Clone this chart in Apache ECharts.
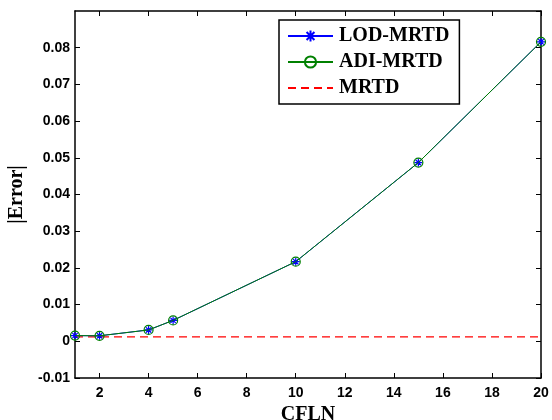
<!DOCTYPE html>
<html><head><meta charset="utf-8">
<script src="https://cdn.jsdelivr.net/npm/echarts@6/dist/echarts.min.js"></script>
<style>html,body{margin:0;padding:0;background:#fff}#c{width:552px;height:420px}</style>
</head><body><div id="c"></div>
<script>
const cfln = [1, 2, 4, 5, 10, 15, 20];
const lodMrtd = [0.00155, 0.0015, 0.0031, 0.0057, 0.0217, 0.0487, 0.0816];
const adiMrtd = [0.00155, 0.0015, 0.0031, 0.0057, 0.0217, 0.0487, 0.0816];
const mrtdX = [1, 20];
const mrtdY = [0.0012, 0.0012];
const xTicks = [2, 4, 6, 8, 10, 12, 14, 16, 18, 20];
const seriesNames = ['LOD-MRTD', 'ADI-MRTD', 'MRTD'];
const xTitle = 'CFLN';
const yTitle = '|Error|';

const pair = (xs, ys) => xs.map((x, i) => [x, ys[i]]);
const asterisk = 'path://M0 5 L10 5 M5 0 L5 10 M1.5 1.5 L8.5 8.5 M8.5 1.5 L1.5 8.5';
const tickFont = {fontFamily: 'Liberation Sans, Arial, sans-serif', fontWeight: 'bold', fontSize: 14, color: '#000'};
const titleFont = {fontFamily: 'Liberation Serif, Times New Roman, serif', fontWeight: 'bold', fontSize: 20, color: '#000'};
const axLine = {show: true, onZero: false, lineStyle: {color: '#000', width: 1.5}};
const tick = {show: true, inside: true, length: 5, lineStyle: {color: '#000'}};

const chart = echarts.init(document.getElementById('c'), null, {renderer: 'canvas'});
chart.setOption({
  animation: false,
  backgroundColor: '#fff',
  grid: {left: 75, right: 11, top: 11, bottom: 42, containLabel: false, outerBoundsMode: 'none'},
  legend: {
    left: 279, top: 20, orient: 'vertical',
    data: [seriesNames[0], seriesNames[1],
      {name: seriesNames[2], itemStyle: {color: 'rgba(0,0,0,0)', borderColor: 'rgba(0,0,0,0)', borderWidth: 0}}],
    backgroundColor: '#fff', borderColor: '#000', borderWidth: 1.5,
    padding: [6, 10, 6, 8], itemGap: 6, itemWidth: 45, itemHeight: 14,
    textStyle: Object.assign({padding: [0, 0, 0, 1]}, titleFont)
  },
  xAxis: [{
    type: 'value', min: 1, max: 20,
    name: xTitle, nameLocation: 'middle', nameGap: 21, nameTextStyle: titleFont,
    axisLine: axLine, splitLine: {show: false},
    axisTick: Object.assign({customValues: xTicks}, tick),
    axisLabel: Object.assign({margin: 8, customValues: xTicks}, tickFont)
  }, {
    type: 'value', min: 1, max: 20, position: 'top',
    axisLine: axLine, splitLine: {show: false},
    axisTick: Object.assign({customValues: xTicks}, tick),
    axisLabel: {show: false}
  }],
  yAxis: [{
    type: 'value', min: -0.01, max: 0.09, interval: 0.01,
    name: yTitle, nameLocation: 'middle', nameGap: 47, nameTextStyle: titleFont,
    axisLine: axLine, splitLine: {show: false},
    axisTick: tick,
    axisLabel: Object.assign({margin: 5, showMaxLabel: false,
      formatter: v => Math.abs(v) < 1e-9 ? '0' : v.toFixed(2)}, tickFont)
  }, {
    type: 'value', min: -0.01, max: 0.09, interval: 0.01, position: 'right',
    axisLine: axLine, splitLine: {show: false},
    axisTick: tick,
    axisLabel: {show: false}
  }],
  series: [{
    name: seriesNames[2], type: 'line', data: pair(mrtdX, mrtdY),
    symbol: 'none', z: 1,
    lineStyle: {color: '#ff0000', width: 1.2, type: [8, 5]},
    itemStyle: {color: '#ff0000'}
  }, {
    name: seriesNames[0], type: 'line', data: pair(cfln, lodMrtd),
    symbol: asterisk, symbolSize: 8, z: 2,
    lineStyle: {color: '#0000ff', width: 1},
    itemStyle: {color: '#0000ff', borderColor: '#0000ff', borderWidth: 1.2}
  }, {
    name: seriesNames[1], type: 'line', data: pair(cfln, adiMrtd),
    symbol: 'circle', symbolSize: 9, z: 3,
    lineStyle: {color: '#008000', width: 1},
    itemStyle: {color: 'rgba(0,0,0,0)', borderColor: '#008000', borderWidth: 1.2}
  }]
});
</script></body></html>
